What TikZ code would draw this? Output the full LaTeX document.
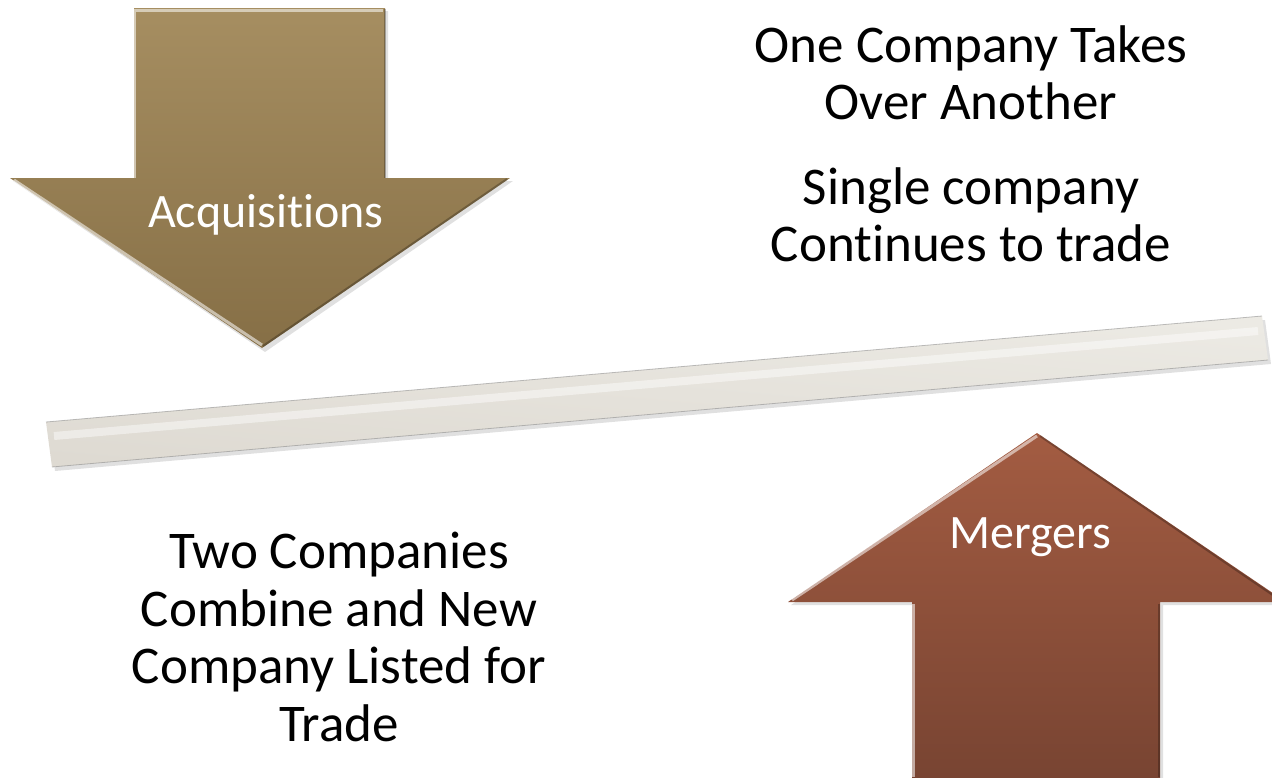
\documentclass[tikz,border=0pt]{standalone}
\usepackage{fontspec}
\setmainfont[RawFeature={-liga;-clig;-dlig}]{Carlito}
\begin{document}
\begin{tikzpicture}[x=1pt,y=-1pt,
  bodytext/.style={align=center,font=\fontsize{53}{57.5}\selectfont,text=black,inner sep=0pt},
  arrowlabel/.style={font=\fontsize{48}{52}\selectfont,text=white,inner sep=0pt},
  edgehi/.style={white,opacity=0.55,line width=3pt},
  edgelo/.style={black,opacity=0.25,line width=2pt}]
\useasboundingbox (0,0) rectangle (1272,777);
\clip (0,0) rectangle (1272,777);
% Acquisitions arrow (down)
\fill[black,opacity=0.12] (137,11) -- (388,11) -- (388,181) -- (513,181) -- (265,352) -- (13,181) -- (137,181) -- cycle;
\shade[top color={rgb,255:red,166;green,142;blue,97}, bottom color={rgb,255:red,134;green,111;blue,70}]
  (134,8) -- (385,8) -- (385,178) -- (510,178) -- (262,348) -- (10,178) -- (134,178) -- cycle;
\draw[edgehi] (136,10) -- (383,10);
\draw[edgehi] (14,180) -- (262,345);
\draw[edgehi] (134,9) -- (134,178);
\draw[edgelo] (385,9) -- (385,178);
\draw[edgelo] (507,179) -- (263,346);
% Bar
\fill[black,opacity=0.12] (49,426) -- (1265,320) -- (1271,364) -- (55,471) -- cycle;
\shade[top color={rgb,255:red,236;green,234;blue,228}, bottom color={rgb,255:red,222;green,218;blue,210}, shading angle=-5]
  (46,422) -- (1262,316) -- (1268,360) -- (52,467) -- cycle;
\draw[white,opacity=0.45,line width=8pt] (54,436) -- (1258,331);
\draw[gray,opacity=0.5,line width=0.8pt] (46,422) -- (1262,316);
\draw[gray,opacity=0.5,line width=0.8pt] (52,467) -- (1268,360);
% Mergers arrow (up)
\fill[black,opacity=0.12] (915,780) -- (915,605) -- (791,605) -- (1040,436) -- (1289,605) -- (1163,605) -- (1163,780) -- cycle;
\shade[top color={rgb,255:red,163;green,92;blue,66}, bottom color={rgb,255:red,120;green,68;blue,50}]
  (912,780) -- (912,602) -- (788,602) -- (1037,433) -- (1286,602) -- (1160,602) -- (1160,780) -- cycle;
\draw[edgehi] (792,600) -- (1037,436);
\draw[edgehi] (913,604) -- (913,777);
\draw[edgelo] (1159,604) -- (1159,777);
\draw[edgelo] (1040,436) -- (1280,600);
% Labels
\node[arrowlabel] (acq) at (266,215) {Acquisit\kern0pt ions};
\node[arrowlabel] (mer) at (1030,537) {Mergers};
\node[bodytext] (takes) at (971,73) {One Company Takes\\Over Another};
\node[bodytext] (single) at (971,215) {Single company\\Cont\kern0pt inues to trade};
\node[bodytext] (two) at (339,637) {Two Companies\\Combine and New\\Company Listed for\\Trade};
\end{tikzpicture}
\end{document}
